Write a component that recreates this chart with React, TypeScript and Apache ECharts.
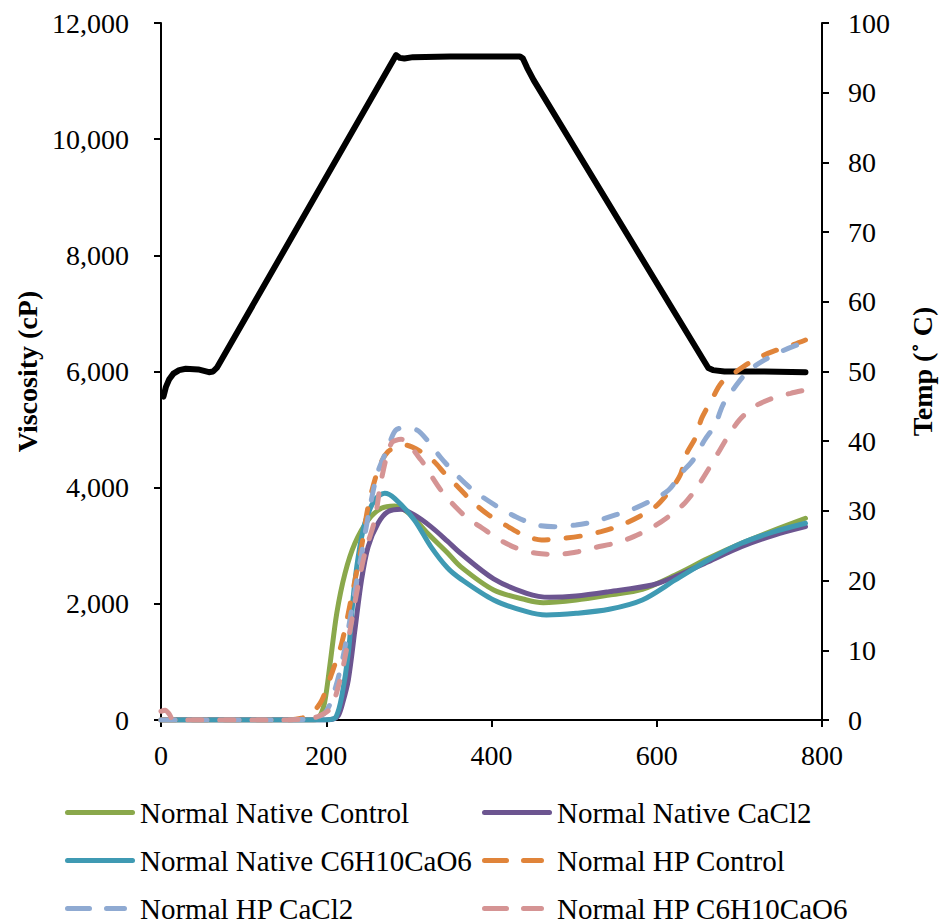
import React, { useEffect, useRef } from "react";
import * as echarts from "echarts";

const FONT = "'Times New Roman', 'Liberation Serif', serif";

const xTicks = [0, 200, 400, 600, 800];
const seriesNames = [
  "Normal Native Control",
  "Normal Native CaCl2",
  "Normal Native C6H10CaO6",
  "Normal HP Control",
  "Normal HP CaCl2",
  "Normal HP C6H10CaO6",
];
const seriesColors = ["#8AA84B", "#6C5590", "#3F9AB3", "#E0843A", "#8FAAD2", "#D59494"];

// [time (s), viscosity (cP)]
const nnControl = [
  [0, 0], [185, 0], [192, 60], [198, 300], [204.7, 976], [212.7, 1837], [222.7, 2526], [234.7, 3043],
  [250.7, 3444], [266.6, 3645], [282.7, 3685], [300, 3560], [322.6, 3215], [346.6, 2880], [362.6, 2640],
  [402.6, 2238], [442.6, 2066], [462.6, 2020], [502.5, 2066], [542.5, 2152], [582.5, 2250], [622.5, 2497],
  [662.4, 2784], [702.4, 3042], [742.3, 3271], [780, 3473],
];
const nnCaCl2 = [
  [0, 0], [195, 0], [208, 15], [214.7, 80], [220, 300], [226.7, 689], [234.7, 1550], [242.7, 2411],
  [250.7, 2984], [262.7, 3387], [274.7, 3587], [290.6, 3628], [306.6, 3530], [326.6, 3329], [346.6, 3080],
  [362.6, 2870], [402.6, 2430], [442.6, 2181], [470.5, 2112], [502.5, 2135], [542.5, 2210], [594.5, 2325],
  [622.5, 2468], [662.4, 2726], [702.4, 2984], [742.3, 3185], [780, 3329],
];
const nnC6 = [
  [0, 0], [190, 0], [205, 10], [212, 60], [218.7, 402], [226.7, 1148], [232.7, 2123], [238.7, 2812],
  [246.7, 3387], [258.7, 3788], [270.7, 3903], [282.7, 3817], [306.6, 3444], [326.6, 2984], [346.6, 2620],
  [362.6, 2430], [402.6, 2066], [442.6, 1865], [466.5, 1808], [502.5, 1837], [542.5, 1906], [582.5, 2066],
  [622.5, 2411], [662.4, 2755], [702.4, 3042], [742.3, 3242], [780, 3387],
];
const hpControl = [
  [0, 0], [150, 0], [170, 30], [182.7, 115], [194.7, 344], [206.7, 804], [218.7, 1321], [230.7, 2123],
  [242.7, 2984], [250.7, 3673], [262.7, 4305], [274.7, 4620], [294.6, 4735], [314.6, 4620], [330.6, 4448],
  [343, 4250], [360.6, 3995], [376.6, 3760], [396.6, 3530], [416.6, 3357], [438.6, 3185], [460.5, 3100],
  [486.5, 3128], [508.5, 3168], [532.5, 3243], [554.5, 3340], [578.5, 3500], [598.5, 3673], [616.4, 3960],
  [628.4, 4218], [636.4, 4592], [646.4, 4850], [654.4, 5194], [666.4, 5510], [678, 5800], [694, 5975],
  [718, 6200], [740, 6341], [764, 6457], [780, 6543],
];
const hpCaCl2 = [
  [0, 0], [150, 0], [185, 30], [200, 150], [212, 600], [222, 1200], [232, 2000], [242, 2800], [252, 3600],
  [262, 4250], [275, 4700], [284, 4990], [297, 5030], [310, 4990], [322, 4821], [338, 4528], [352, 4305],
  [372.6, 4017], [388.6, 3845], [410, 3650], [430, 3495], [454.6, 3357], [476.5, 3329], [502, 3357],
  [524, 3414], [550, 3530], [570.5, 3627], [594.5, 3788], [614.4, 3960], [630, 4253], [644, 4477],
  [658, 4821], [670.5, 5079], [680, 5423], [692, 5682], [710, 5997], [727, 6170], [750, 6341], [770, 6457],
  [780, 6500],
];
const hpC6 = [
  [0, 150], [5, 170], [10, 100], [15, 0], [150, 0], [175, 20], [190, 60], [205, 200], [216.7, 689],
  [226.7, 1377], [236.7, 2181], [246.7, 2870], [258.7, 3444], [266.6, 4132], [278.7, 4764], [290.6, 4833],
  [314.6, 4477], [322.6, 4305], [338.6, 3960], [352, 3736], [370.6, 3478], [388.6, 3306], [410, 3100],
  [430, 2962], [454.6, 2870], [478.5, 2853], [504.6, 2898], [526.5, 2973], [550.5, 3048], [572, 3157],
  [596, 3329], [614, 3500], [634, 3736], [648, 3990], [662, 4305], [674, 4592], [686, 4878], [700, 5165],
  [718, 5394], [740, 5538], [762, 5624], [780, 5682],
];
// [time (s), temperature (°C)]
const temperature = [
  [3, 46.4], [6, 47.8], [10, 48.9], [15, 49.7], [22, 50.2], [30, 50.4], [45, 50.3], [58, 49.9], [63, 50.0],
  [68, 50.6], [284.6, 95.4], [289, 95.0], [294.6, 94.9], [305, 95.1], [350, 95.2], [400, 95.2], [434.5, 95.2],
  [438, 94.9], [443, 93.6], [451, 91.8], [662.4, 50.5], [668, 50.2], [682, 50.0], [730, 50.0], [780, 49.9],
];

const viscosityData = [nnControl, nnCaCl2, nnC6, hpControl, hpCaCl2, hpC6];

const SOLID_ICON = "path://M2.5,0H67.5A2.5,2.5,0,0,1,67.5,5H2.5A2.5,2.5,0,0,1,2.5,0Z";
const DASH_ICON =
  "path://M2.5,0H24.5A2.5,2.5,0,0,1,24.5,5H2.5A2.5,2.5,0,0,1,2.5,0Z" +
  "M41.5,0H59.5A2.5,2.5,0,0,1,59.5,5H41.5A2.5,2.5,0,0,1,41.5,0Z" +
  "M70,2.5L70,2.5";

// legend placement: [series index, left, top]
const legendSlots = [
  [0, 65, 798], [1, 482, 798],
  [2, 65, 846], [3, 482, 846],
  [4, 65, 894], [5, 482, 894],
];

export default function App() {
  const ref = useRef<HTMLDivElement>(null);
  useEffect(() => {
    if (!ref.current) return;
    const chart = echarts.init(ref.current, null, { renderer: "svg" });
    const axisLine = { show: true, lineStyle: { color: "#000", width: 2 } };
    const axisTick = { show: true, inside: false, length: 7, lineStyle: { color: "#000", width: 2 } };
    const labelStyle = { color: "#000", fontFamily: FONT, fontSize: 28 };
    const series: any[] = viscosityData.map((d, i) => ({
      name: seriesNames[i],
      type: "line",
      data: d,
      yAxisIndex: 0,
      showSymbol: false,
      symbol: "none",
      smooth: 0.3,
      lineStyle: {
        color: seriesColors[i],
        width: 5,
        type: i >= 3 ? [14, 18] : "solid",
        cap: "round",
      },
      itemStyle: { color: seriesColors[i] },
      z: 2 + i,
    }));
    series.unshift({
      name: "Temp",
      type: "line",
      data: temperature,
      yAxisIndex: 1,
      showSymbol: false,
      symbol: "none",
      smooth: false,
      lineStyle: { color: "#000", width: 6, cap: "round", join: "round" },
      itemStyle: { color: "#000" },
      z: 1,
    });
    const legends = legendSlots.map(([idx, left, top]) => ({
      data: [{ name: seriesNames[idx], icon: idx >= 3 ? DASH_ICON : SOLID_ICON }],
      orient: "horizontal",
      left,
      top,
      padding: 0,
      itemWidth: 70,
      itemHeight: 5,
      itemStyle: { borderWidth: 0 },
      textStyle: { color: "#000", fontFamily: FONT, fontSize: 29 },
    }));
    chart.setOption({
      animation: false,
      backgroundColor: "#fff",
      grid: { left: 161, right: 116, top: 23, bottom: 203, containLabel: false },
      xAxis: {
        type: "value",
        min: 0,
        max: 800,
        interval: 200,
        axisLine,
        axisTick,
        splitLine: { show: false },
        axisLabel: { ...labelStyle, margin: 21, formatter: (v: number) => (xTicks.includes(v) ? String(v) : "") },
      },
      yAxis: [
        {
          type: "value",
          min: 0,
          max: 12000,
          interval: 2000,
          position: "left",
          name: "Viscosity (cP)",
          nameLocation: "middle",
          nameGap: 118,
          nameRotate: 90,
          nameTextStyle: { color: "#000", fontFamily: FONT, fontSize: 28, fontWeight: "bold" },
          axisLine,
          axisTick,
          splitLine: { show: false },
          axisLabel: { ...labelStyle, margin: 32, formatter: (v: number) => v.toLocaleString("en-US") },
        },
        {
          type: "value",
          min: 0,
          max: 100,
          interval: 10,
          position: "right",
          name: "Temp (\u02DA C)",
          nameLocation: "middle",
          nameGap: 86,
          nameRotate: 90,
          nameTextStyle: { color: "#000", fontFamily: FONT, fontSize: 28, fontWeight: "bold" },
          axisLine,
          axisTick,
          splitLine: { show: false },
          axisLabel: { ...labelStyle, margin: 26 },
        },
      ],
      legend: legends,
      series,
    });
    return () => chart.dispose();
  }, []);
  return (
    <div
      ref={ref}
      style={{ position: "absolute", left: 0, top: 0, width: 944, height: 923, background: "#fff" }}
    />
  );
}
